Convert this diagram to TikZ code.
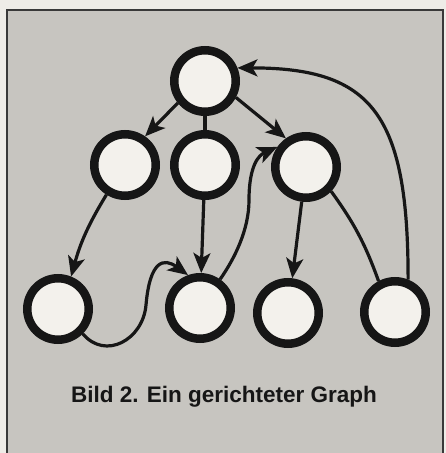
\documentclass[tikz,border=0pt]{standalone}
\usepackage{fontspec}
\setmainfont{Liberation Sans}
\usetikzlibrary{arrows.meta}
\definecolor{gBack}{RGB}{199,197,192}
\definecolor{gPaper}{RGB}{238,236,231}
\definecolor{gFill}{RGB}{243,241,236}
\definecolor{gInk}{RGB}{22,22,22}

\begin{document}
\begin{tikzpicture}[x=1pt,y=1pt,
      vert/.style={circle,draw=gInk,line width=8.5pt,fill=gFill,inner sep=0pt,minimum size=61.5pt},
      lin/.style={draw=gInk,line width=3.2pt},
      arr/.style={lin,-{Stealth[length=20pt,width=17pt,inset=5pt]}}]
    % paper and frame
    \useasboundingbox (0,0) rectangle (446,-453);
    \fill[gPaper] (0,0) rectangle (446,-453);
    \fill[gBack] (7,-10) rectangle (443,-453);
    \draw[gInk!85,line width=2pt] (7,-453) |- (443,-10) -- (443,-453);
    % vertices
    \node[vert] (root) at (205,-81) {};
    \node[vert] (kl) at (125,-165) {};
    \node[vert] (km) at (205,-165) {};
    \node[vert] (kr) at (306,-167) {};
    \node[vert] (bl) at (58,-309) {};
    \node[vert] (bm) at (200,-308) {};
    \node[vert] (bt) at (288,-313) {};
    \node[vert] (br) at (395,-312) {};
    \coordinate (w1) at (146,-305);
    \coordinate (w2) at (249,-200);
    % edges
    \draw[arr] (root.-141) -- (kl.55);
    \draw[lin] (root) -- (km);
    \draw[arr] (root.-28) -- (kr.125);
    \draw[arr] (kl.-122) to[bend right=8] (bl.68);
    \draw[arr] (km) -- (bm);
    \draw[arr] (kr) -- (bt);
    \draw[lin] (kr.-44) to[bend left=8] (br.118);
    \draw[arr] (bl.-45) .. controls +(-50:35) and +(-95:35) .. (w1)
                        .. controls +(85:45) and +(144:30) .. (bm.110);
    \draw[arr] (bm.55) .. controls +(55:25) and +(-90:30) .. (w2)
                       .. controls +(90:35) and +(-156:20) .. (kr.145);
    \draw[arr] (br.68) .. controls +(90:165) and +(0:135) .. (root.22);
    % caption
    \node[font=\bfseries\fontsize{22.5}{26}\selectfont,text=gInk] (cap) at (224,-397) {Bild 2. Ein gerichteter Graph};
  \end{tikzpicture}
\end{document}
